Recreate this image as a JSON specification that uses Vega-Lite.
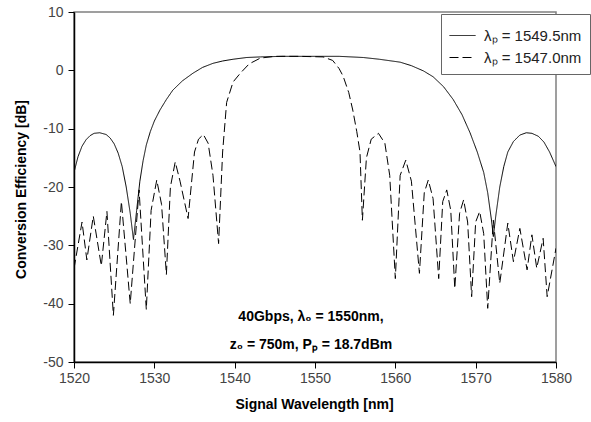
{
  "$schema": "https://vega.github.io/schema/vega-lite/v6.json",
  "width": 482,
  "height": 350,
  "autosize": {"type": "none"},
  "padding": {"left": 74, "top": 12, "right": 35, "bottom": 60},
  "background": "white",
  "config": {
    "view": {"stroke": "#808080", "strokeWidth": 1.5},
    "font": "Liberation Sans",
    "axis": {"grid": false}
  },
  "datasets": {
    "curves": [
      {"lam": 1520, "ce": -17.5, "series": "λₚ = 1549.5nm"},
      {"lam": 1520.5, "ce": -14.8, "series": "λₚ = 1549.5nm"},
      {"lam": 1521, "ce": -13, "series": "λₚ = 1549.5nm"},
      {"lam": 1521.5, "ce": -11.9, "series": "λₚ = 1549.5nm"},
      {"lam": 1522, "ce": -11.2, "series": "λₚ = 1549.5nm"},
      {"lam": 1522.5, "ce": -10.8, "series": "λₚ = 1549.5nm"},
      {"lam": 1523.2, "ce": -10.7, "series": "λₚ = 1549.5nm"},
      {"lam": 1524, "ce": -11, "series": "λₚ = 1549.5nm"},
      {"lam": 1524.5, "ce": -11.6, "series": "λₚ = 1549.5nm"},
      {"lam": 1525, "ce": -12.6, "series": "λₚ = 1549.5nm"},
      {"lam": 1525.5, "ce": -14.2, "series": "λₚ = 1549.5nm"},
      {"lam": 1526, "ce": -16.5, "series": "λₚ = 1549.5nm"},
      {"lam": 1526.5, "ce": -20, "series": "λₚ = 1549.5nm"},
      {"lam": 1527, "ce": -24.5, "series": "λₚ = 1549.5nm"},
      {"lam": 1527.4, "ce": -29, "series": "λₚ = 1549.5nm"},
      {"lam": 1527.8, "ce": -24, "series": "λₚ = 1549.5nm"},
      {"lam": 1528.2, "ce": -19, "series": "λₚ = 1549.5nm"},
      {"lam": 1528.6, "ce": -15.5, "series": "λₚ = 1549.5nm"},
      {"lam": 1529, "ce": -12.8, "series": "λₚ = 1549.5nm"},
      {"lam": 1529.5, "ce": -10.5, "series": "λₚ = 1549.5nm"},
      {"lam": 1530, "ce": -8.7, "series": "λₚ = 1549.5nm"},
      {"lam": 1530.7, "ce": -6.8, "series": "λₚ = 1549.5nm"},
      {"lam": 1531.5, "ce": -5, "series": "λₚ = 1549.5nm"},
      {"lam": 1532.3, "ce": -3.4, "series": "λₚ = 1549.5nm"},
      {"lam": 1533.5, "ce": -1.8, "series": "λₚ = 1549.5nm"},
      {"lam": 1534.8, "ce": -0.5, "series": "λₚ = 1549.5nm"},
      {"lam": 1536, "ce": 0.5, "series": "λₚ = 1549.5nm"},
      {"lam": 1537.3, "ce": 1.2, "series": "λₚ = 1549.5nm"},
      {"lam": 1538.5, "ce": 1.6, "series": "λₚ = 1549.5nm"},
      {"lam": 1539.8, "ce": 1.9, "series": "λₚ = 1549.5nm"},
      {"lam": 1541.5, "ce": 2.2, "series": "λₚ = 1549.5nm"},
      {"lam": 1543.2, "ce": 2.3, "series": "λₚ = 1549.5nm"},
      {"lam": 1546, "ce": 2.4, "series": "λₚ = 1549.5nm"},
      {"lam": 1550, "ce": 2.4, "series": "λₚ = 1549.5nm"},
      {"lam": 1553, "ce": 2.4, "series": "λₚ = 1549.5nm"},
      {"lam": 1556, "ce": 2.2, "series": "λₚ = 1549.5nm"},
      {"lam": 1558, "ce": 1.9, "series": "λₚ = 1549.5nm"},
      {"lam": 1560.6, "ce": 1.4, "series": "λₚ = 1549.5nm"},
      {"lam": 1562, "ce": 0.8, "series": "λₚ = 1549.5nm"},
      {"lam": 1563.5, "ce": -0.1, "series": "λₚ = 1549.5nm"},
      {"lam": 1564.7, "ce": -1.1, "series": "λₚ = 1549.5nm"},
      {"lam": 1566, "ce": -2.8, "series": "λₚ = 1549.5nm"},
      {"lam": 1567.2, "ce": -5, "series": "λₚ = 1549.5nm"},
      {"lam": 1568.3, "ce": -7.6, "series": "λₚ = 1549.5nm"},
      {"lam": 1569.3, "ce": -10.7, "series": "λₚ = 1549.5nm"},
      {"lam": 1570.2, "ce": -14, "series": "λₚ = 1549.5nm"},
      {"lam": 1571, "ce": -17.5, "series": "λₚ = 1549.5nm"},
      {"lam": 1571.5, "ce": -21, "series": "λₚ = 1549.5nm"},
      {"lam": 1572, "ce": -26, "series": "λₚ = 1549.5nm"},
      {"lam": 1572.2, "ce": -28.5, "series": "λₚ = 1549.5nm"},
      {"lam": 1572.5, "ce": -25, "series": "λₚ = 1549.5nm"},
      {"lam": 1573, "ce": -20, "series": "λₚ = 1549.5nm"},
      {"lam": 1573.5, "ce": -16.5, "series": "λₚ = 1549.5nm"},
      {"lam": 1574, "ce": -14, "series": "λₚ = 1549.5nm"},
      {"lam": 1574.7, "ce": -12.2, "series": "λₚ = 1549.5nm"},
      {"lam": 1575.5, "ce": -11.1, "series": "λₚ = 1549.5nm"},
      {"lam": 1576.3, "ce": -10.7, "series": "λₚ = 1549.5nm"},
      {"lam": 1577, "ce": -10.8, "series": "λₚ = 1549.5nm"},
      {"lam": 1577.8, "ce": -11.3, "series": "λₚ = 1549.5nm"},
      {"lam": 1578.5, "ce": -12.3, "series": "λₚ = 1549.5nm"},
      {"lam": 1579.2, "ce": -14, "series": "λₚ = 1549.5nm"},
      {"lam": 1580, "ce": -16.5, "series": "λₚ = 1549.5nm"},

      {"lam": 1520, "ce": -34, "series": "λₚ = 1547.0nm"},
      {"lam": 1521, "ce": -26, "series": "λₚ = 1547.0nm"},
      {"lam": 1521.6, "ce": -32.5, "series": "λₚ = 1547.0nm"},
      {"lam": 1522.4, "ce": -25, "series": "λₚ = 1547.0nm"},
      {"lam": 1523.4, "ce": -33.5, "series": "λₚ = 1547.0nm"},
      {"lam": 1524.1, "ce": -24.2, "series": "λₚ = 1547.0nm"},
      {"lam": 1524.9, "ce": -42, "series": "λₚ = 1547.0nm"},
      {"lam": 1525.9, "ce": -22.5, "series": "λₚ = 1547.0nm"},
      {"lam": 1527, "ce": -40, "series": "λₚ = 1547.0nm"},
      {"lam": 1528.1, "ce": -20.5, "series": "λₚ = 1547.0nm"},
      {"lam": 1529, "ce": -41, "series": "λₚ = 1547.0nm"},
      {"lam": 1529.6, "ce": -24, "series": "λₚ = 1547.0nm"},
      {"lam": 1530.3, "ce": -18.8, "series": "λₚ = 1547.0nm"},
      {"lam": 1530.9, "ce": -23, "series": "λₚ = 1547.0nm"},
      {"lam": 1531.5, "ce": -35, "series": "λₚ = 1547.0nm"},
      {"lam": 1532, "ce": -20, "series": "λₚ = 1547.0nm"},
      {"lam": 1532.6, "ce": -15.7, "series": "λₚ = 1547.0nm"},
      {"lam": 1533.2, "ce": -19, "series": "λₚ = 1547.0nm"},
      {"lam": 1534.2, "ce": -25.4, "series": "λₚ = 1547.0nm"},
      {"lam": 1535, "ce": -14, "series": "λₚ = 1547.0nm"},
      {"lam": 1535.5, "ce": -11.8, "series": "λₚ = 1547.0nm"},
      {"lam": 1536.1, "ce": -11, "series": "λₚ = 1547.0nm"},
      {"lam": 1536.7, "ce": -12.5, "series": "λₚ = 1547.0nm"},
      {"lam": 1537.3, "ce": -18, "series": "λₚ = 1547.0nm"},
      {"lam": 1538, "ce": -29.7, "series": "λₚ = 1547.0nm"},
      {"lam": 1538.5, "ce": -14, "series": "λₚ = 1547.0nm"},
      {"lam": 1539, "ce": -5.5, "series": "λₚ = 1547.0nm"},
      {"lam": 1539.8, "ce": -2, "series": "λₚ = 1547.0nm"},
      {"lam": 1540.7, "ce": -0.5, "series": "λₚ = 1547.0nm"},
      {"lam": 1541.8, "ce": 1.1, "series": "λₚ = 1547.0nm"},
      {"lam": 1543.2, "ce": 2.1, "series": "λₚ = 1547.0nm"},
      {"lam": 1545, "ce": 2.4, "series": "λₚ = 1547.0nm"},
      {"lam": 1548, "ce": 2.4, "series": "λₚ = 1547.0nm"},
      {"lam": 1551, "ce": 2.3, "series": "λₚ = 1547.0nm"},
      {"lam": 1552.2, "ce": 1.7, "series": "λₚ = 1547.0nm"},
      {"lam": 1553, "ce": 0.3, "series": "λₚ = 1547.0nm"},
      {"lam": 1553.5, "ce": -1, "series": "λₚ = 1547.0nm"},
      {"lam": 1554.2, "ce": -3.8, "series": "λₚ = 1547.0nm"},
      {"lam": 1554.7, "ce": -6.8, "series": "λₚ = 1547.0nm"},
      {"lam": 1555.2, "ce": -10.5, "series": "λₚ = 1547.0nm"},
      {"lam": 1555.6, "ce": -14, "series": "λₚ = 1547.0nm"},
      {"lam": 1555.9, "ce": -25.7, "series": "λₚ = 1547.0nm"},
      {"lam": 1556.4, "ce": -15, "series": "λₚ = 1547.0nm"},
      {"lam": 1557, "ce": -11.8, "series": "λₚ = 1547.0nm"},
      {"lam": 1557.9, "ce": -10.8, "series": "λₚ = 1547.0nm"},
      {"lam": 1558.7, "ce": -12.5, "series": "λₚ = 1547.0nm"},
      {"lam": 1559.3, "ce": -18, "series": "λₚ = 1547.0nm"},
      {"lam": 1560, "ce": -35.7, "series": "λₚ = 1547.0nm"},
      {"lam": 1560.6, "ce": -18, "series": "λₚ = 1547.0nm"},
      {"lam": 1561.3, "ce": -15.4, "series": "λₚ = 1547.0nm"},
      {"lam": 1562, "ce": -19, "series": "λₚ = 1547.0nm"},
      {"lam": 1563, "ce": -34.8, "series": "λₚ = 1547.0nm"},
      {"lam": 1563.6, "ce": -21, "series": "λₚ = 1547.0nm"},
      {"lam": 1564.1, "ce": -18.8, "series": "λₚ = 1547.0nm"},
      {"lam": 1564.7, "ce": -22, "series": "λₚ = 1547.0nm"},
      {"lam": 1565.4, "ce": -35.7, "series": "λₚ = 1547.0nm"},
      {"lam": 1565.9, "ce": -22.5, "series": "λₚ = 1547.0nm"},
      {"lam": 1566.4, "ce": -20.5, "series": "λₚ = 1547.0nm"},
      {"lam": 1566.9, "ce": -24, "series": "λₚ = 1547.0nm"},
      {"lam": 1567.4, "ce": -37.4, "series": "λₚ = 1547.0nm"},
      {"lam": 1568, "ce": -24.5, "series": "λₚ = 1547.0nm"},
      {"lam": 1568.5, "ce": -22.2, "series": "λₚ = 1547.0nm"},
      {"lam": 1569, "ce": -26, "series": "λₚ = 1547.0nm"},
      {"lam": 1569.5, "ce": -38.8, "series": "λₚ = 1547.0nm"},
      {"lam": 1570, "ce": -26, "series": "λₚ = 1547.0nm"},
      {"lam": 1570.5, "ce": -24.2, "series": "λₚ = 1547.0nm"},
      {"lam": 1571, "ce": -28, "series": "λₚ = 1547.0nm"},
      {"lam": 1571.5, "ce": -40.8, "series": "λₚ = 1547.0nm"},
      {"lam": 1572.2, "ce": -25.7, "series": "λₚ = 1547.0nm"},
      {"lam": 1573, "ce": -36.5, "series": "λₚ = 1547.0nm"},
      {"lam": 1574, "ce": -26.2, "series": "λₚ = 1547.0nm"},
      {"lam": 1574.7, "ce": -32.8, "series": "λₚ = 1547.0nm"},
      {"lam": 1575.5, "ce": -27.1, "series": "λₚ = 1547.0nm"},
      {"lam": 1576.4, "ce": -34.2, "series": "λₚ = 1547.0nm"},
      {"lam": 1577, "ce": -28.2, "series": "λₚ = 1547.0nm"},
      {"lam": 1577.6, "ce": -33.9, "series": "λₚ = 1547.0nm"},
      {"lam": 1578.4, "ce": -28.8, "series": "λₚ = 1547.0nm"},
      {"lam": 1578.9, "ce": -38.8, "series": "λₚ = 1547.0nm"},
      {"lam": 1580, "ce": -30.5, "series": "λₚ = 1547.0nm"}
    ]
  },
  "layer": [
    {
      "data": {"name": "curves"},
      "mark": {"type": "line", "color": "black", "strokeWidth": 1, "clip": true},
      "encoding": {
        "x": {
          "field": "lam", "type": "quantitative",
          "scale": {"domain": [1520, 1580], "nice": false, "zero": false},
          "axis": {
            "values": [1520, 1530, 1540, 1550, 1560, 1570, 1580],
            "format": "d",
            "title": "Signal Wavelength [nm]",
            "titleFont": "Liberation Sans", "titleFontSize": 14, "titleFontWeight": "bold", "titleColor": "black",
            "titleX": 240, "titleY": 42, "titleBaseline": "middle",
            "labelFont": "'Liberation Sans Narrow', 'Liberation Sans', sans-serif", "labelFontSize": 14, "labelColor": "#444",
            "labelPadding": 3, "tickSize": 6, "tickColor": "black", "domainColor": "black", "domainWidth": 1.5,
            "labelFlush": false, "labelOverlap": false
          }
        },
        "y": {
          "field": "ce", "type": "quantitative",
          "scale": {"domain": [-50, 10], "nice": false, "zero": false},
          "axis": {
            "values": [-50, -40, -30, -20, -10, 0, 10],
            "labelExpr": "datum.value < 0 ? '-' + abs(datum.value) : '' + datum.value",
            "title": "Conversion Efficiency [dB]",
            "titleFont": "Liberation Sans", "titleFontSize": 14, "titleFontWeight": "bold", "titleColor": "black",
            "titleX": -53, "titleY": 177, "titleAngle": -90, "titleAlign": "center", "titleBaseline": "middle",
            "labelFont": "'Liberation Sans Narrow', 'Liberation Sans', sans-serif", "labelFontSize": 14, "labelColor": "#444",
            "labelPadding": 5, "tickSize": 6, "tickColor": "black", "domainColor": "black", "domainWidth": 1.5,
            "labelFlush": false, "labelOverlap": false
          }
        },
        "detail": {"field": "series"},
        "strokeDash": {
          "field": "series", "type": "nominal",
          "scale": {"domain": ["λₚ = 1549.5nm", "λₚ = 1547.0nm"], "range": [[1, 0], [9, 4]]},
          "legend": {
            "title": null,
            "orient": "none",
            "legendX": 367,
            "legendY": 2,
            "direction": "vertical",
            "fillColor": "white",
            "strokeColor": "#666",
            "padding": 8,
            "symbolType": "stroke",
            "symbolSize": 676,
            "symbolStrokeColor": "black",
            "symbolStrokeWidth": 1,
            "rowPadding": -2,
            "labelFont": "Liberation Sans",
            "labelFontSize": 15,
            "labelColor": "#222",
            "labelOffset": 8,
            "labelLimit": 200
          }
        }
      }
    },
    {
      "data": {"values": [{}]},
      "mark": {"type": "text", "text": "40Gbps, λ₀ = 1550nm,", "font": "Liberation Sans", "fontSize": 14, "fontWeight": "bold", "color": "black", "align": "center", "baseline": "middle"},
      "encoding": {
        "x": {"datum": 1549.5, "type": "quantitative"},
        "y": {"datum": -42.3, "type": "quantitative"}
      }
    },
    {
      "data": {"values": [{}]},
      "mark": {"type": "text", "text": "z₀ = 750m, Pₚ = 18.7dBm", "font": "Liberation Sans", "fontSize": 14, "fontWeight": "bold", "color": "black", "align": "center", "baseline": "middle"},
      "encoding": {
        "x": {"datum": 1549.5, "type": "quantitative"},
        "y": {"datum": -47, "type": "quantitative"}
      }
    }
  ]
}
